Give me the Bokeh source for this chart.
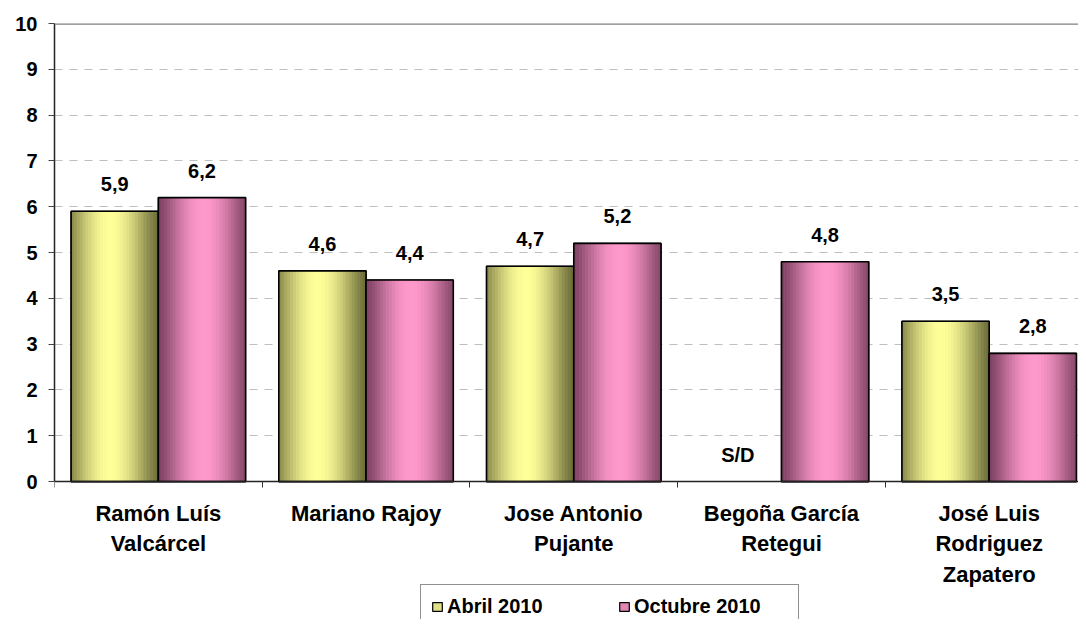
import math
from bokeh.plotting import figure
from bokeh.models import ColumnDataSource, Range1d, FixedTicker, Span, Legend, LegendItem
from bokeh.core.properties import value
from bokeh.embed import file_html
from bokeh.resources import INLINE

# ---------------- data ----------------
categories = ["Ramón Luís\nValcárcel", "Mariano Rajoy", "Jose Antonio\nPujante",
              "Begoña García\nRetegui", "José Luis\nRodriguez\nZapatero"]
abril_2010 = [5.9, 4.6, 4.7, None, 3.5]
octubre_2010 = [6.2, 4.4, 5.2, 4.8, 2.8]
series_names = ["Abril 2010", "Octubre 2010"]
y_ticks = [0, 1, 2, 3, 4, 5, 6, 7, 8, 9, 10]
missing_label = "S/D"

# ---------------- style ----------------
FONT = "Liberation Sans"
BAR_W = 0.42
N_STRIPS = 30
series_style = {
    "Abril 2010": dict(values=abril_2010, dark=(108, 108, 58), light=(255, 255, 153),
                       peak=0.45, offset=-BAR_W / 2, swatch="#e0e088"),
    "Octubre 2010": dict(values=octubre_2010, dark=(125, 66, 98), light=(255, 153, 204),
                         peak=0.52, offset=BAR_W / 2, swatch="#de88b3"),
}


def mix(c1, c2, t):
    r = [int(round(a + (b - a) * t)) for a, b in zip(c1, c2)]
    return "#%02x%02x%02x" % tuple(r)


# frame spans the full lower area so that the legend (drawn inside the frame) is not clipped
Y_LOW = -3.01
p = figure(width=1078, height=619, output_backend="svg", toolbar_location=None,
           x_range=Range1d(-0.5, 4.43), y_range=Range1d(Y_LOW, 10),
           min_border_left=54, min_border_right=0, min_border_top=23, min_border_bottom=0)
p.outline_line_color = None
p.background_fill_color = "white"
p.border_fill_color = "white"

# grid
p.xgrid.grid_line_color = None
p.ygrid.grid_line_color = "#bfbfbf"
p.ygrid.grid_line_dash = "8 7"
p.ygrid.grid_line_width = 1
p.ygrid.ticker = FixedTicker(ticks=y_ticks[1:])
p.add_layout(Span(location=y_ticks[-1], dimension="width", line_color="#808080", line_width=2.5))

# bars with simulated cylinder gradient
legend_renderers = {}
for name in series_names:
    st = series_style[name]
    xs, tops, ws, cols = [], [], [], []
    ox, ot = [], []
    lx, ly, lt = [], [], []
    for i, v in enumerate(st["values"]):
        cx = i + st["offset"]
        if v is None:
            lx.append(cx); ly.append(0); lt.append(missing_label)
            continue
        for k in range(N_STRIPS):
            u = (k + 0.5) / N_STRIPS
            d = abs(u - st["peak"]) / max(st["peak"], 1 - st["peak"])
            f = math.cos(min(d, 1.0) * math.pi / 2) ** 1.3
            xs.append(cx - BAR_W / 2 + u * BAR_W)
            tops.append(v)
            ws.append(BAR_W / N_STRIPS * 1.15)
            cols.append(mix(st["dark"], st["light"], f))
        ox.append(cx); ot.append(v)
        lx.append(cx); ly.append(v); lt.append(f"{v:.1f}".replace(".", ","))
    # base bar (also used as the legend swatch)
    legend_renderers[name] = p.vbar(x=ox, top=ot, width=BAR_W, bottom=0, fill_color=st["swatch"],
                                    line_color="black", line_width=1.2)
    p.vbar(x="x", top="top", width="w", bottom=0, fill_color="c", line_color=None,
           source=ColumnDataSource(dict(x=xs, top=tops, w=ws, c=cols)))
    p.vbar(x=ox, top=ot, width=BAR_W, bottom=0, fill_color=None,
           line_color="black", line_width=1.6)
    p.text(x=lx, y=ly, text=lt, text_align="center", text_baseline="middle",
           y_offset=-27, text_font=value(FONT), text_font_style="bold",
           text_font_size="20px", text_color="black")

# axes
xa = p.xaxis[0]
xa.fixed_location = 0
xa.ticker = FixedTicker(ticks=list(range(len(categories))),
                        minor_ticks=[i - 0.5 for i in range(len(categories) + 1)])
xa.major_label_overrides = {i: c for i, c in enumerate(categories)}
xa.major_tick_out = 0
xa.major_tick_in = 0
xa.minor_tick_out = 6
xa.minor_tick_in = 0
xa.minor_tick_line_color = "#333333"
xa.axis_line_color = "#222222"
xa.axis_line_width = 1.5
xa.major_label_standoff = 13
xa.major_label_text_font = FONT
xa.major_label_text_font_style = "bold"
xa.major_label_text_font_size = "22px"
xa.major_label_text_line_height = 1.22
xa.major_label_text_color = "black"

ya = p.yaxis[0]
ya.bounds = (0, 10)
ya.ticker = FixedTicker(ticks=y_ticks)
ya.major_tick_out = 6
ya.major_tick_in = 0
ya.minor_tick_out = 0
ya.minor_tick_in = 0
ya.major_tick_line_color = "#444444"
ya.axis_line_color = "#222222"
ya.axis_line_width = 1.5
ya.major_label_standoff = 11
ya.major_label_text_font = FONT
ya.major_label_text_font_style = "bold"
ya.major_label_text_font_size = "20px"
ya.major_label_text_color = "black"

# legend
items = [LegendItem(label=name, renderers=[legend_renderers[name]]) for name in series_names]
legend = Legend(items=items, orientation="horizontal", location=(366, -10),
                padding=10, spacing=17, label_width=154, glyph_width=12, glyph_height=11,
                label_standoff=4, margin=0, border_line_color="#222222", border_line_width=1,
                background_fill_alpha=1.0, label_text_font=FONT, label_text_font_style="bold",
                label_text_font_size="20px", label_text_color="black")
p.add_layout(legend, "center")

open("out.html", "w").write(file_html(p, INLINE))
